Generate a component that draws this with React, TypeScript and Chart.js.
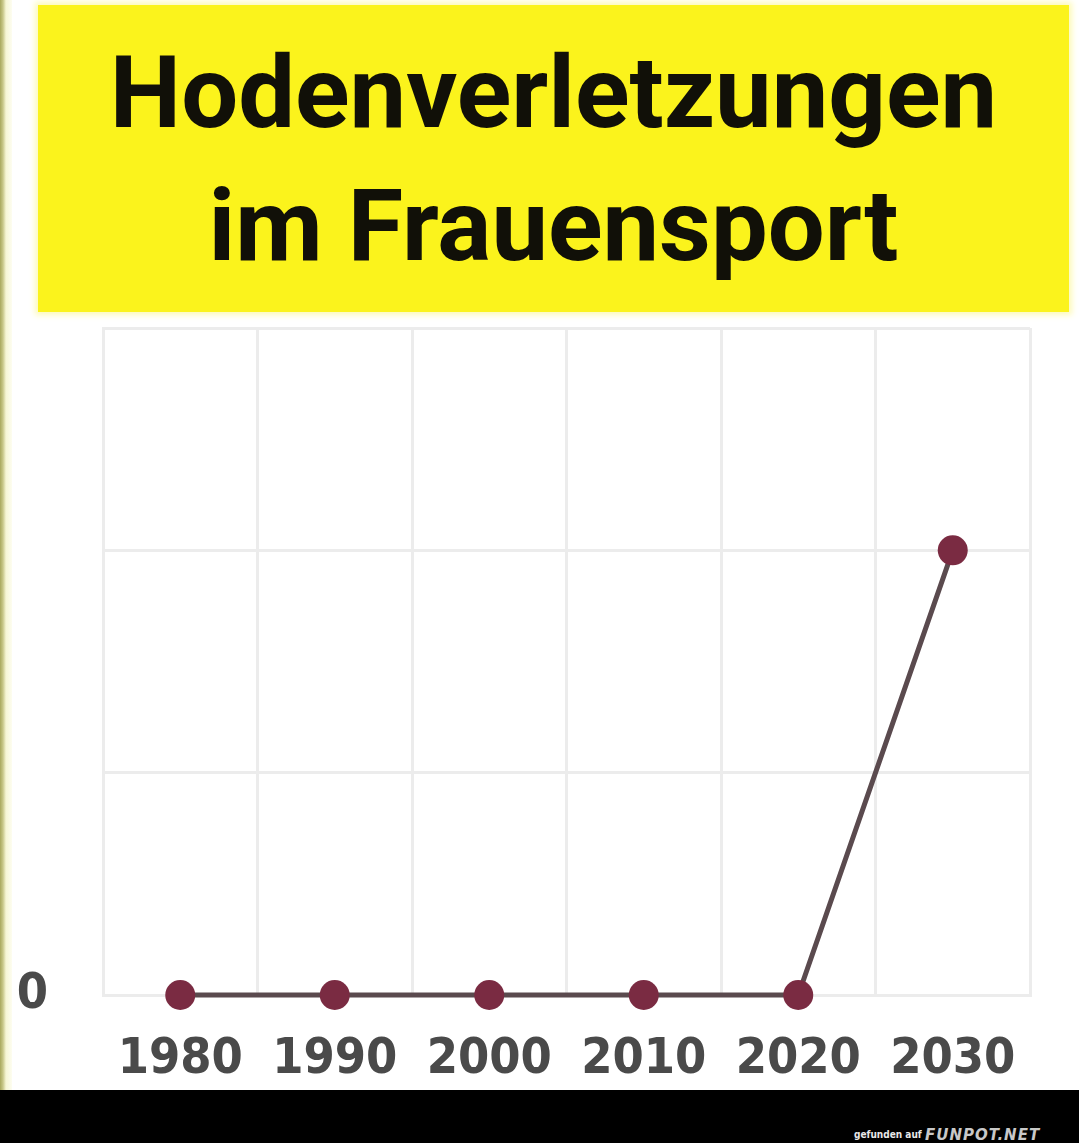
import React, { useEffect, useRef } from "react";
import { Chart, registerables } from "chart.js";

Chart.register(...registerables);

const titleLines = ["Hodenverletzungen", "im Frauensport"];
const years = ["1980", "1990", "2000", "2010", "2020", "2030"];
const injuries = [0, 0, 0, 0, 0, 2];
const yMax = 3;
const yLabelValues = [0];

export default function App() {
  const canvasRef = useRef<HTMLCanvasElement | null>(null);

  useEffect(() => {
    document.body.style.margin = "0";
    const canvas = canvasRef.current;
    if (!canvas) return;
    const chart = new Chart(canvas, {
      type: "line",
      data: {
        labels: years,
        datasets: [
          {
            data: injuries,
            borderColor: "#5a4a4e",
            borderWidth: 5,
            pointRadius: 15,
            pointHoverRadius: 15,
            pointBackgroundColor: "#7a2b42",
            pointBorderColor: "#7a2b42",
            pointBorderWidth: 0,
            tension: 0,
            clip: false as any,
          },
        ],
      },
      options: {
        responsive: false,
        animation: false,
        devicePixelRatio: 1,
        layout: { autoPadding: false, padding: { top: 8, right: 49, bottom: 0, left: 0 } },
        plugins: { legend: { display: false }, tooltip: { enabled: false }, title: { display: false } },
        scales: {
          x: {
            offset: true,
            grid: { offset: true, color: "#ececec", lineWidth: 3, drawTicks: false },
            border: { color: "#ececec", width: 3 },
            ticks: {
              color: "#4a4a4a",
              padding: 35,
              font: { family: "'DejaVu Sans Condensed', 'DejaVu Sans', sans-serif", size: 50, weight: "bold" },
              maxRotation: 0,
              autoSkip: false,
            },
            afterFit: (scale: any) => {
              scale.height = 95;
              scale.paddingLeft = 0;
              scale.paddingRight = 0;
            },
          },
          y: {
            min: 0,
            max: yMax,
            grid: { color: "#ececec", lineWidth: 3, drawTicks: false },
            border: { color: "#ececec", width: 3 },
            ticks: {
              stepSize: 1,
              color: "#4a4a4a",
              padding: 55,
              font: { family: "'DejaVu Sans Condensed', 'DejaVu Sans', sans-serif", size: 50, weight: "bold" },
              callback: (v: any) => (yLabelValues.includes(Number(v)) ? String(v) : ""),
            },
            afterFit: (scale: any) => {
              scale.width = 103;
              scale.paddingTop = 0;
              scale.paddingBottom = 0;
            },
          },
        },
      },
    });
    return () => chart.destroy();
  }, []);

  return (
    <div
      style={{
        position: "absolute",
        left: 0,
        top: 0,
        width: 1079,
        height: 1143,
        background: "#ffffff",
        overflow: "hidden",
      }}
    >
      <div
        style={{
          position: "absolute",
          left: 0,
          top: 0,
          width: 12,
          height: 1090,
          background: "linear-gradient(to right, #a9a85e 0px, #c9c88a 3px, #f7f6d6 6px, #fdfdf0 12px)",
        }}
      />
      <div
        style={{
          position: "absolute",
          left: 38,
          top: 5,
          width: 1031,
          height: 307,
          background: "#fbf31c",
          boxShadow: "0 0 6px 3px #fdfab8",
        }}
      />
      {titleLines.map((t, i) => (
        <div
          key={t}
          style={{
            position: "absolute",
            left: 38,
            width: 1031,
            top: 38 + i * 133,
            height: 110,
            lineHeight: "110px",
            textAlign: "center",
            fontFamily: "Roboto, 'Liberation Sans', sans-serif",
            fontWeight: 700,
            fontSize: 101,
            color: "#111008",
            whiteSpace: "nowrap",
          }}
        >
          {t}
        </div>
      ))}
      <canvas
        ref={canvasRef}
        width={1079}
        height={770}
        style={{ position: "absolute", left: 0, top: 320, width: 1079, height: 770 }}
      />
      <div
        style={{
          position: "absolute",
          left: 0,
          top: 1090,
          width: 1079,
          height: 53,
          background: "#000000",
        }}
      />
      <div
        style={{
          position: "absolute",
          left: 854,
          top: 1128,
          fontFamily: "'DejaVu Sans Condensed', 'DejaVu Sans', sans-serif",
          fontSize: 10,
          fontWeight: 700,
          color: "#e8e8e8",
          whiteSpace: "nowrap",
          lineHeight: "14px",
        }}
      >
        gefunden auf
      </div>
      <div
        style={{
          position: "absolute",
          left: 925,
          top: 1126,
          fontFamily: "'DejaVu Sans', sans-serif",
          fontSize: 15,
          fontWeight: 700,
          fontStyle: "italic",
          letterSpacing: 1,
          color: "#c8c8c8",
          whiteSpace: "nowrap",
          lineHeight: "18px",
        }}
      >
        FUNPOT.NET
      </div>
    </div>
  );
}
